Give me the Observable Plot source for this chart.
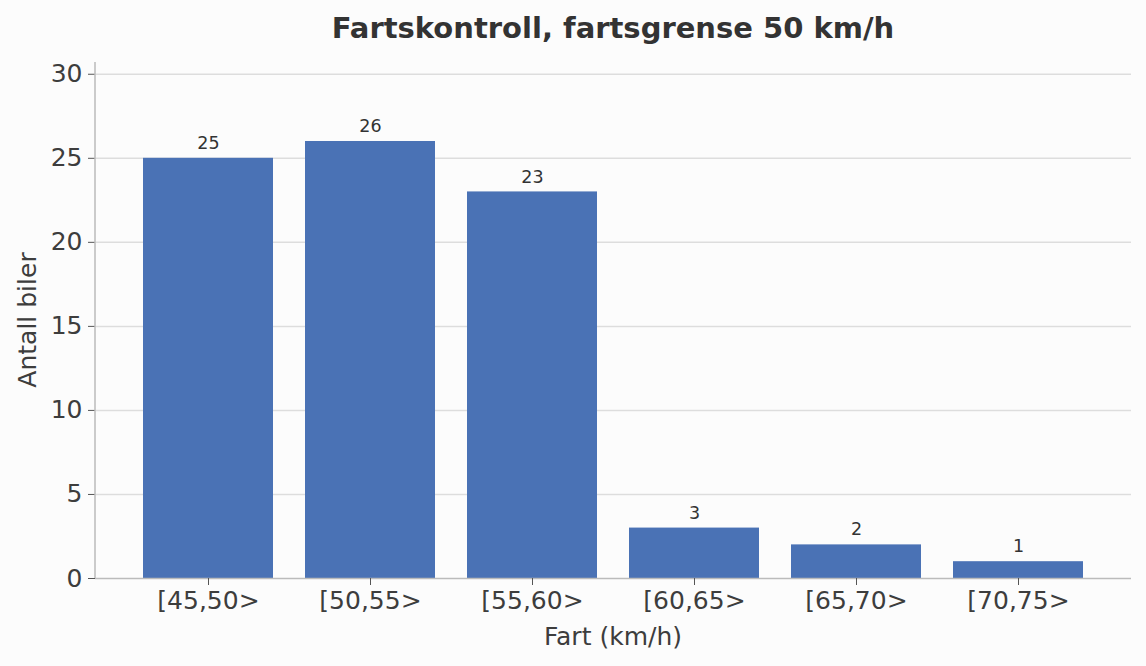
<!DOCTYPE html>
<html><head><meta charset="utf-8">
<script src="https://cdn.jsdelivr.net/npm/d3@7"></script>
<script src="https://cdn.jsdelivr.net/npm/@observablehq/plot@0.6"></script>
<style>
body{margin:0;background:#fcfcfc;font-family:"DejaVu Sans",sans-serif;}
#title{height:50px;line-height:56px;text-align:center;font-weight:bold;font-size:29px;color:#333;padding-left:80px;}
</style></head><body>
<div id="title">Fartskontroll, fartsgrense 50 km/h</div>
<div id="chart"></div>
<script>
const categories = ["[45,50>","[50,55>","[55,60>","[60,65>","[65,70>","[70,75>"];
const counts = [25, 26, 23, 3, 2, 1];
const yTicks = [0,5,10,15,20,25,30];
const data = categories.map((c,i)=>({fart:c, antall:counts[i]}));
const W=1146, H=616, mL=95, mR=15, mT=12, mB=88;
const chart = Plot.plot({
  width:W, height:H, marginLeft:mL, marginRight:mR, marginTop:mT, marginBottom:mB,
  style:{background:"transparent", fontFamily:"DejaVu Sans, sans-serif", color:"#3d3d3d"},
  x:{domain:categories, paddingInner:0.2, paddingOuter:0.289, label:null},
  y:{domain:[0,30.7], label:null},
  marks:[
    Plot.gridY(yTicks.filter(d=>d>0), {stroke:"#dddddd", strokeOpacity:1, strokeWidth:1.5}),
    Plot.barY(data, {x:"fart", y:"antall", fill:"#4a72b5"}),
    Plot.text(data, {x:"fart", y:"antall", text:d=>String(d.antall), dy:-15, fontSize:17.5, fill:"#333"}),
    Plot.ruleY([0], {stroke:"#bbbbbb", strokeWidth:1.5}),
    Plot.axisY({ticks:yTicks, tickSize:7, tickPadding:6, fontSize:25, stroke:"#555", fill:"#3d3d3d", label:null}),
    Plot.axisX({tickSize:7, tickPadding:6, fontSize:25, stroke:"#555", fill:"#3d3d3d", label:null})
  ]
});
document.getElementById("chart").appendChild(chart);
const svg = d3.select(chart);
// left spine
svg.append("line").attr("x1",mL).attr("x2",mL).attr("y1",mT).attr("y2",H-mB)
  .attr("stroke","#bbbbbb").attr("stroke-width",1.5);
// axis labels
svg.append("text").attr("x",(mL+W-mR)/2).attr("y",H-21).attr("text-anchor","middle")
  .attr("font-size",25).attr("fill","#3d3d3d").text("Fart (km/h)");
svg.append("text").attr("transform",`translate(36,${(mT+H-mB)/2}) rotate(-90)`).attr("text-anchor","middle")
  .attr("font-size",25).attr("fill","#3d3d3d").text("Antall biler");
</script>
</body></html>
